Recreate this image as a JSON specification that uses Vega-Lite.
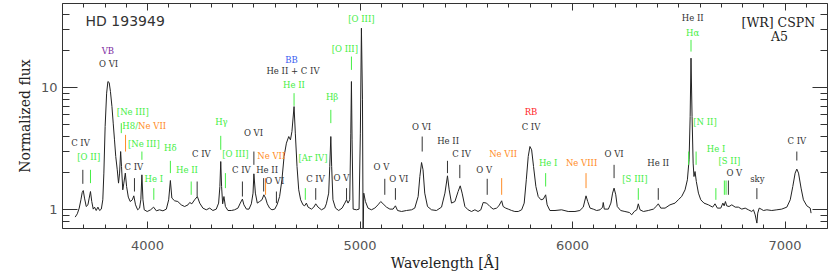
{
 "$schema": "https://vega.github.io/schema/vega-lite/v6.json",
 "width": 765, "height": 225,
 "autosize": {"type": "none"},
 "padding": {"left": 62, "top": 3, "right": 3, "bottom": 49},
 "background": "white",
 "config": {"view": {"stroke": "#333", "strokeWidth": 1}, "axis": {"grid": false, "domain": false, "tickColor": "#333", "tickWidth": 1}},
 "datasets": {
  "spectrum": [
   {"w":3662,"f":0.860},{"w":3672,"f":0.915},{"w":3681,"f":1.019},{"w":3689,"f":1.192},{"w":3695,"f":1.368},{"w":3700,"f":1.420},{"w":3706,"f":1.231},{"w":3714,"f":1.050},{"w":3722,"f":1.084},{"w":3728,"f":1.231},{"w":3734,"f":1.394},{"w":3740,"f":1.154},{"w":3747,"f":1.000},{"w":3753,"f":1.038},{"w":3761,"f":0.974},{"w":3769,"f":1.038},{"w":3777,"f":0.974},{"w":3785,"f":1.000},{"w":3792,"f":1.192},{"w":3797,"f":1.973},{"w":3803,"f":4.754},{"w":3810,"f":8.930},{"w":3816,"f":11.12},{"w":3822,"f":10.91},{"w":3828,"f":9.204},{"w":3835,"f":6.934},{"w":3841,"f":5.069},{"w":3847,"f":3.698},{"w":3853,"f":2.698},{"w":3860,"f":2.100},{"w":3866,"f":1.633},{"w":3871,"f":1.973},{"w":3876,"f":2.966},{"w":3880,"f":2.235},{"w":3886,"f":1.439},{"w":3891,"f":1.633},{"w":3898,"f":1.973},{"w":3904,"f":1.532},{"w":3912,"f":1.254},{"w":3921,"f":1.154},{"w":3931,"f":1.192},{"w":3938,"f":1.285},{"w":3946,"f":1.084},{"w":3956,"f":0.987},{"w":3965,"f":1.019},{"w":3971,"f":1.192},{"w":3976,"f":1.910},{"w":3981,"f":1.192},{"w":3987,"f":0.987},{"w":4001,"f":0.956},{"w":4017,"f":0.987},{"w":4031,"f":1.038},{"w":4044,"f":0.968},{"w":4059,"f":0.987},{"w":4075,"f":0.968},{"w":4091,"f":1.000},{"w":4102,"f":1.192},{"w":4110,"f":1.716},{"w":4117,"f":1.231},{"w":4130,"f":1.170},{"w":4145,"f":1.154},{"w":4161,"f":1.084},{"w":4177,"f":1.050},{"w":4193,"f":1.084},{"w":4201,"f":1.133},{"w":4211,"f":1.105},{"w":4224,"f":1.192},{"w":4237,"f":1.268},{"w":4248,"f":1.120},{"w":4263,"f":1.019},{"w":4279,"f":0.987},{"w":4295,"f":1.019},{"w":4310,"f":0.974},{"w":4326,"f":1.000},{"w":4337,"f":1.120},{"w":4343,"f":1.532},{"w":4347,"f":2.455},{"w":4351,"f":1.532},{"w":4356,"f":1.105},{"w":4362,"f":1.268},{"w":4369,"f":1.050},{"w":4381,"f":0.974},{"w":4397,"f":0.974},{"w":4412,"f":0.987},{"w":4428,"f":1.019},{"w":4439,"f":1.120},{"w":4449,"f":1.208},{"w":4456,"f":1.084},{"w":4468,"f":1.000},{"w":4480,"f":1.000},{"w":4491,"f":1.105},{"w":4499,"f":1.352},{"w":4503,"f":1.947},{"w":4510,"f":1.352},{"w":4519,"f":1.120},{"w":4530,"f":1.154},{"w":4541,"f":1.192},{"w":4550,"f":1.310},{"w":4558,"f":1.231},{"w":4566,"f":1.105},{"w":4577,"f":1.019},{"w":4588,"f":0.987},{"w":4601,"f":1.000},{"w":4612,"f":1.084},{"w":4624,"f":1.268},{"w":4635,"f":1.739},{"w":4645,"f":2.698},{"w":4656,"f":3.475},{"w":4667,"f":3.937},{"w":4675,"f":3.698},{"w":4682,"f":4.325},{"w":4692,"f":6.934},{"w":4698,"f":4.198},{"w":4706,"f":2.235},{"w":4714,"f":1.439},{"w":4723,"f":1.192},{"w":4734,"f":1.084},{"w":4742,"f":1.064},{"w":4750,"f":1.120},{"w":4758,"f":1.038},{"w":4774,"f":1.000},{"w":4785,"f":1.038},{"w":4794,"f":1.105},{"w":4805,"f":1.038},{"w":4821,"f":0.987},{"w":4836,"f":1.019},{"w":4844,"f":1.105},{"w":4855,"f":1.352},{"w":4860,"f":2.235},{"w":4865,"f":3.937},{"w":4869,"f":2.235},{"w":4875,"f":1.192},{"w":4887,"f":1.019},{"w":4902,"f":0.974},{"w":4918,"f":1.019},{"w":4931,"f":1.120},{"w":4939,"f":1.192},{"w":4946,"f":1.120},{"w":4954,"f":1.192},{"w":4959,"f":4.198},{"w":4962,"f":11.12},{"w":4965,"f":3.698},{"w":4970,"f":1.000},{"w":4986,"f":0.987},{"w":4998,"f":1.000},{"w":5004,"f":4.198},{"w":5009,"f":30.45},{"w":5014,"f":7.868},{"w":5017,"f":0.6},{"w":5020,"f":1.352},{"w":5028,"f":1.154},{"w":5040,"f":1.019},{"w":5056,"f":0.987},{"w":5072,"f":1.019},{"w":5087,"f":1.084},{"w":5100,"f":1.154},{"w":5111,"f":1.105},{"w":5127,"f":1.038},{"w":5143,"f":1.000},{"w":5158,"f":1.000},{"w":5169,"f":1.064},{"w":5179,"f":0.974},{"w":5198,"f":0.956},{"w":5221,"f":0.974},{"w":5245,"f":0.987},{"w":5260,"f":1.019},{"w":5276,"f":1.268},{"w":5284,"f":1.850},{"w":5292,"f":2.410},{"w":5299,"f":2.100},{"w":5307,"f":1.352},{"w":5320,"f":1.050},{"w":5339,"f":0.987},{"w":5362,"f":0.974},{"w":5386,"f":1.038},{"w":5402,"f":1.352},{"w":5414,"f":1.875},{"w":5422,"f":1.439},{"w":5433,"f":1.120},{"w":5449,"f":1.154},{"w":5464,"f":1.394},{"w":5474,"f":1.552},{"w":5483,"f":1.352},{"w":5496,"f":1.050},{"w":5511,"f":0.987},{"w":5527,"f":0.956},{"w":5543,"f":0.987},{"w":5558,"f":0.956},{"w":5571,"f":0.987},{"w":5582,"f":1.133},{"w":5598,"f":1.120},{"w":5614,"f":1.050},{"w":5629,"f":1.000},{"w":5645,"f":1.019},{"w":5656,"f":1.064},{"w":5669,"f":1.170},{"w":5676,"f":1.050},{"w":5688,"f":1.019},{"w":5700,"f":1.000},{"w":5716,"f":0.974},{"w":5731,"f":0.956},{"w":5747,"f":0.956},{"w":5763,"f":0.987},{"w":5775,"f":1.120},{"w":5785,"f":1.739},{"w":5794,"f":2.698},{"w":5802,"f":3.260},{"w":5810,"f":3.063},{"w":5819,"f":2.235},{"w":5830,"f":1.532},{"w":5841,"f":1.268},{"w":5854,"f":1.192},{"w":5865,"f":1.208},{"w":5876,"f":1.310},{"w":5883,"f":1.084},{"w":5896,"f":0.974},{"w":5920,"f":0.974},{"w":5951,"f":0.987},{"w":5982,"f":0.956},{"w":6014,"f":0.956},{"w":6037,"f":0.974},{"w":6053,"f":1.038},{"w":6066,"f":1.285},{"w":6074,"f":1.154},{"w":6085,"f":1.019},{"w":6100,"f":1.000},{"w":6116,"f":0.974},{"w":6132,"f":0.987},{"w":6144,"f":1.038},{"w":6147,"f":1.133},{"w":6152,"f":1.000},{"w":6171,"f":1.000},{"w":6183,"f":1.120},{"w":6191,"f":1.352},{"w":6198,"f":1.486},{"w":6206,"f":1.310},{"w":6213,"f":1.050},{"w":6229,"f":0.974},{"w":6249,"f":0.956},{"w":6270,"f":0.938},{"w":6281,"f":0.898},{"w":6293,"f":0.956},{"w":6305,"f":0.987},{"w":6312,"f":1.105},{"w":6320,"f":0.987},{"w":6336,"f":0.956},{"w":6359,"f":0.974},{"w":6383,"f":1.000},{"w":6399,"f":1.064},{"w":6406,"f":1.105},{"w":6418,"f":1.019},{"w":6438,"f":1.019},{"w":6461,"f":1.084},{"w":6485,"f":1.120},{"w":6500,"f":1.192},{"w":6516,"f":1.268},{"w":6532,"f":1.439},{"w":6543,"f":1.739},{"w":6551,"f":2.536},{"w":6556,"f":5.741},{"w":6560,"f":17.29},{"w":6565,"f":5.741},{"w":6570,"f":2.383},{"w":6574,"f":1.850},{"w":6579,"f":2.033},{"w":6585,"f":1.684},{"w":6595,"f":1.352},{"w":6606,"f":1.192},{"w":6621,"f":1.120},{"w":6642,"f":1.084},{"w":6662,"f":1.038},{"w":6673,"f":1.105},{"w":6684,"f":1.019},{"w":6700,"f":1.019},{"w":6710,"f":1.120},{"w":6716,"f":1.064},{"w":6722,"f":1.154},{"w":6728,"f":1.064},{"w":6739,"f":1.050},{"w":6752,"f":1.084},{"w":6768,"f":1.038},{"w":6783,"f":1.038},{"w":6799,"f":1.000},{"w":6815,"f":1.019},{"w":6830,"f":0.987},{"w":6846,"f":0.956},{"w":6854,"f":0.987},{"w":6862,"f":0.898},{"w":6870,"f":0.768},{"w":6874,"f":0.927},{"w":6881,"f":1.019},{"w":6890,"f":1.000},{"w":6901,"f":0.974},{"w":6917,"f":0.987},{"w":6940,"f":0.974},{"w":6964,"f":0.987},{"w":6987,"f":1.000},{"w":7011,"f":1.038},{"w":7027,"f":1.192},{"w":7039,"f":1.532},{"w":7050,"f":1.973},{"w":7058,"f":2.128},{"w":7066,"f":1.973},{"w":7078,"f":1.486},{"w":7089,"f":1.192},{"w":7105,"f":1.064},{"w":7121,"f":1.019},{"w":7125,"f":0.927}
  ],
  "labels": [
   {"w":3816,"f":19.95,"label":"VB","kind":"VB"},
   {"w":3819,"f":15.52,"label":"O VI","kind":"ion"},
   {"w":3933,"f":6.31,"label":"[Ne III]","kind":"neb"},
   {"w":3921,"f":4.818,"label":"H8/","kind":"neb"},
   {"w":4024,"f":4.818,"label":"Ne VII","kind":"neon"},
   {"w":3985,"f":3.43,"label":"[Ne III]","kind":"neb"},
   {"w":3687,"f":3.475,"label":"C IV","kind":"ion"},
   {"w":3726,"f":2.668,"label":"[O II]","kind":"neb"},
   {"w":3938,"f":2.235,"label":"C IV","kind":"ion"},
   {"w":4032,"f":1.772,"label":"He I","kind":"neb"},
   {"w":4110,"f":3.162,"label":"Hδ","kind":"neb"},
   {"w":4188,"f":2.100,"label":"He II","kind":"neb"},
   {"w":4256,"f":2.841,"label":"C IV","kind":"ion"},
   {"w":4350,"f":5.224,"label":"Hγ","kind":"neb"},
   {"w":4501,"f":4.198,"label":"O VI","kind":"ion"},
   {"w":4416,"f":2.824,"label":"[O III]","kind":"neb"},
   {"w":4444,"f":2.100,"label":"C IV","kind":"ion"},
   {"w":4585,"f":2.750,"label":"Ne VII","kind":"neon"},
   {"w":4565,"f":2.100,"label":"He II","kind":"ion"},
   {"w":4601,"f":1.716,"label":"O VI","kind":"ion"},
   {"w":4680,"f":16.74,"label":"BB","kind":"BB"},
   {"w":4687,"f":13.60,"label":"He II + C IV","kind":"ion"},
   {"w":4692,"f":10.44,"label":"He II","kind":"neb"},
   {"w":4781,"f":2.618,"label":"[Ar IV]","kind":"neb"},
   {"w":4793,"f":1.772,"label":"C IV","kind":"ion"},
   {"w":4871,"f":8.279,"label":"Hβ","kind":"neb"},
   {"w":4931,"f":20.60,"label":"[O III]","kind":"neb"},
   {"w":5009,"f":36.29,"label":"[O III]","kind":"neb"},
   {"w":4915,"f":1.795,"label":"O V","kind":"ion"},
   {"w":5103,"f":2.210,"label":"O V","kind":"ion"},
   {"w":5185,"f":1.772,"label":"O VI","kind":"ion"},
   {"w":5292,"f":4.754,"label":"O VI","kind":"ion"},
   {"w":5417,"f":3.650,"label":"He II","kind":"ion"},
   {"w":5480,"f":2.841,"label":"C IV","kind":"ion"},
   {"w":5587,"f":2.100,"label":"O V","kind":"ion"},
   {"w":5676,"f":2.824,"label":"Ne VII","kind":"neon"},
   {"w":5807,"f":6.31,"label":"RB","kind":"RB"},
   {"w":5807,"f":4.754,"label":"C IV","kind":"ion"},
   {"w":5888,"f":2.410,"label":"He I","kind":"neb"},
   {"w":6045,"f":2.410,"label":"Ne VIII","kind":"neon"},
   {"w":6198,"f":2.824,"label":"O VI","kind":"ion"},
   {"w":6296,"f":1.772,"label":"[S III]","kind":"neb"},
   {"w":6406,"f":2.410,"label":"He II","kind":"ion"},
   {"w":6568,"f":36.78,"label":"He II","kind":"ion"},
   {"w":6568,"f":28.03,"label":"Hα","kind":"neb"},
   {"w":6626,"f":5.166,"label":"[N II]","kind":"neb"},
   {"w":6678,"f":3.121,"label":"He I","kind":"neb"},
   {"w":6741,"f":2.502,"label":"[S II]","kind":"neb"},
   {"w":6764,"f":1.995,"label":"O V","kind":"ion"},
   {"w":6872,"f":1.762,"label":"sky","kind":"ion"},
   {"w":7058,"f":3.650,"label":"C IV","kind":"ion"}
  ],
  "marks": [
   {"w":3698,"f1":2.100,"f2":1.612,"kind":"ion"},
   {"w":3734,"f1":2.100,"f2":1.633,"kind":"neb"},
   {"w":3879,"f1":5.069,"f2":4.198,"kind":"neb"},
   {"w":3899,"f1":4.064,"f2":2.966,"kind":"neon"},
   {"w":3976,"f1":2.966,"f2":2.536,"kind":"neb"},
   {"w":3941,"f1":1.795,"f2":1.394,"kind":"ion"},
   {"w":4032,"f1":1.486,"f2":1.192,"kind":"neb"},
   {"w":4110,"f1":2.488,"f2":1.973,"kind":"neb"},
   {"w":4208,"f1":1.684,"f2":1.310,"kind":"neb"},
   {"w":4236,"f1":1.684,"f2":1.268,"kind":"ion"},
   {"w":4347,"f1":3.989,"f2":3.063,"kind":"neb"},
   {"w":4369,"f1":1.973,"f2":1.486,"kind":"neb"},
   {"w":4449,"f1":1.684,"f2":1.268,"kind":"ion"},
   {"w":4503,"f1":2.966,"f2":2.307,"kind":"ion"},
   {"w":4549,"f1":1.795,"f2":1.394,"kind":"ion"},
   {"w":4558,"f1":1.795,"f2":1.310,"kind":"neon"},
   {"w":4609,"f1":1.394,"f2":1.120,"kind":"ion"},
   {"w":4692,"f1":8.930,"f2":7.026,"kind":"neb"},
   {"w":4745,"f1":1.486,"f2":1.192,"kind":"neb"},
   {"w":4794,"f1":1.486,"f2":1.192,"kind":"ion"},
   {"w":4865,"f1":6.515,"f2":5.069,"kind":"neb"},
   {"w":4939,"f1":1.486,"f2":1.192,"kind":"ion"},
   {"w":4962,"f1":17.82,"f2":13.86,"kind":"neb"},
   {"w":5119,"f1":1.772,"f2":1.310,"kind":"ion"},
   {"w":5169,"f1":1.486,"f2":1.192,"kind":"ion"},
   {"w":5295,"f1":3.937,"f2":2.966,"kind":"ion"},
   {"w":5414,"f1":2.488,"f2":1.973,"kind":"ion"},
   {"w":5472,"f1":2.307,"f2":1.795,"kind":"ion"},
   {"w":5601,"f1":1.772,"f2":1.310,"kind":"ion"},
   {"w":5669,"f1":1.795,"f2":1.310,"kind":"neon"},
   {"w":5876,"f1":1.973,"f2":1.532,"kind":"neb"},
   {"w":6066,"f1":1.973,"f2":1.486,"kind":"neon"},
   {"w":6198,"f1":2.307,"f2":1.795,"kind":"ion"},
   {"w":6312,"f1":1.486,"f2":1.192,"kind":"neb"},
   {"w":6406,"f1":1.486,"f2":1.192,"kind":"ion"},
   {"w":6560,"f1":24.42,"f2":19.58,"kind":"neb"},
   {"w":6549,"f1":2.966,"f2":2.307,"kind":"neb"},
   {"w":6584,"f1":2.966,"f2":2.307,"kind":"neb"},
   {"w":6677,"f1":1.486,"f2":1.192,"kind":"neb"},
   {"w":6717,"f1":1.716,"f2":1.310,"kind":"neb"},
   {"w":6725,"f1":1.716,"f2":1.310,"kind":"neb"},
   {"w":6736,"f1":1.716,"f2":1.310,"kind":"ion"},
   {"w":6870,"f1":1.486,"f2":1.208,"kind":"ion"},
   {"w":7058,"f1":2.966,"f2":2.502,"kind":"ion"}
  ],
  "star": [{"w":3711,"f":34.5,"text":"HD 193949"}],
  "cls": [{"w":6971,"f":33.46,"text":"[WR] CSPN"},{"w":6976,"f":25.7,"text":"A5"}]
 },
 "resolve": {"axis": {"x": "independent", "y": "independent"}},
 "layer": [
  {
   "data": {"name": "spectrum"},
   "mark": {"type": "line", "color": "#222", "strokeWidth": 1, "clip": true},
   "encoding": {
    "x": {"field": "w", "type": "quantitative", "scale": {"domain": [3600, 7200], "nice": false, "zero": false},
          "axis": {"orient": "bottom", "values": [4000, 5000, 6000, 7000], "format": "d", "ticks": false, "labelPadding": 11, "labelFont": "DejaVu Sans", "labelFontSize": 13, "labelColor": "#555", "title": "Wavelength [Å]", "titleFont": "DejaVu Serif", "titleFontSize": 14, "titleFontWeight": "normal", "titleColor": "#222", "titlePadding": 4}},
    "y": {"field": "f", "type": "quantitative", "scale": {"type": "log", "domain": [0.7, 49], "nice": false},
          "axis": {"orient": "left", "values": [1, 10], "format": "d", "ticks": false, "labelPadding": 5, "labelFont": "DejaVu Sans", "labelFontSize": 13, "labelColor": "#555", "title": "Normalized flux", "titleFont": "DejaVu Serif", "titleFontSize": 14, "titleFontWeight": "normal", "titleColor": "#222", "titlePadding": 8}}
   }
  },
  {
   "data": {"name": "marks"},
   "mark": {"type": "rule", "strokeWidth": 1},
   "encoding": {
    "x": {"field": "w", "type": "quantitative",
          "axis": {"orient": "bottom", "values": [3600,3700,3800,3900,4000,4100,4200,4300,4400,4500,4600,4700,4800,4900,5000,5100,5200,5300,5400,5500,5600,5700,5800,5900,6000,6100,6200,6300,6400,6500,6600,6700,6800,6900,7000,7100,7200], "labels": false, "title": null, "tickSize": {"condition": {"test": "datum.value % 1000 === 0", "value": -7}, "value": -4}}},
    "y": {"field": "f1", "type": "quantitative",
          "axis": {"orient": "left", "values": [0.8,0.9,1,2,3,4,5,6,7,8,9,10,20,30,40], "labels": false, "title": null, "tickSize": {"condition": {"test": "datum.value === 1 || datum.value === 10", "value": -15}, "value": -7}}},
    "y2": {"field": "f2"},
    "color": {"field": "kind", "type": "nominal", "legend": null,
              "scale": {"domain": ["ion", "neb", "neon", "VB", "BB", "RB"], "range": ["#333333", "#44ee44", "#ff8c26", "#7b2aa0", "#3a5cf0", "#ff2626"]}}
   }
  },
  {
   "data": {"name": "labels"},
   "mark": {"type": "text", "font": "DejaVu Serif", "fontSize": 8.5, "baseline": "middle", "align": "center"},
   "encoding": {
    "x": {"field": "w", "type": "quantitative",
          "axis": {"orient": "top", "values": [3600,3700,3800,3900,4000,4100,4200,4300,4400,4500,4600,4700,4800,4900,5000,5100,5200,5300,5400,5500,5600,5700,5800,5900,6000,6100,6200,6300,6400,6500,6600,6700,6800,6900,7000,7100,7200], "labels": false, "title": null, "tickSize": {"condition": {"test": "datum.value % 1000 === 0", "value": -7}, "value": -4}}},
    "y": {"field": "f", "type": "quantitative",
          "axis": {"orient": "right", "values": [0.8,0.9,1,2,3,4,5,6,7,8,9,10,20,30,40], "labels": false, "title": null, "tickSize": {"condition": {"test": "datum.value === 1 || datum.value === 10", "value": -15}, "value": -7}}},
    "text": {"field": "label"},
    "color": {"field": "kind", "type": "nominal", "legend": null}
   }
  },
  {
   "data": {"name": "star"},
   "mark": {"type": "text", "font": "DejaVu Sans", "fontSize": 14, "baseline": "middle", "align": "left", "color": "#333"},
   "encoding": {
    "x": {"field": "w", "type": "quantitative", "axis": null},
    "y": {"field": "f", "type": "quantitative", "axis": null},
    "text": {"field": "text"}
   }
  },
  {
   "data": {"name": "cls"},
   "mark": {"type": "text", "font": "DejaVu Serif", "fontSize": 12.5, "baseline": "middle", "align": "center", "color": "#222"},
   "encoding": {
    "x": {"field": "w", "type": "quantitative", "axis": null},
    "y": {"field": "f", "type": "quantitative", "axis": null},
    "text": {"field": "text"}
   }
  }
 ]
}
